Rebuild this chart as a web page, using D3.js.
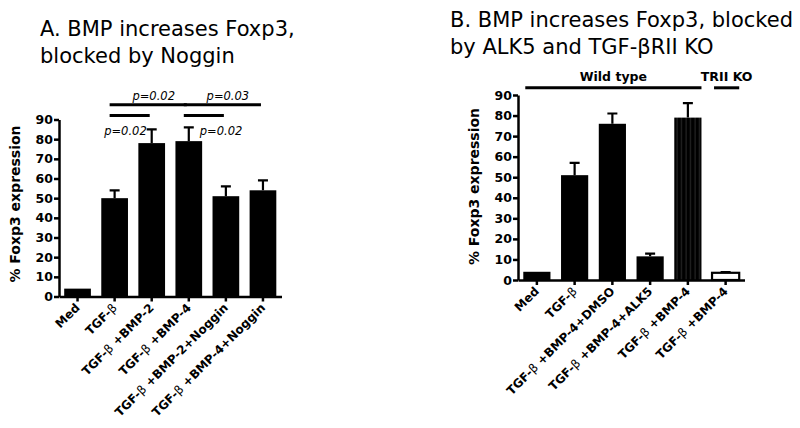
<!DOCTYPE html>
<html>
<head>
<meta charset="utf-8">
<script src="https://cdn.jsdelivr.net/npm/d3@7"></script>
<style>
  body { margin: 0; background: #fff; }
  svg { font-family: 'DejaVu Sans', sans-serif; }
</style>
</head>
<body>
<svg id="chart"></svg>
<script>
// Panel A data
const categoriesA = ['Med', 'TGF-β', 'TGF-β +BMP-2', 'TGF-β +BMP-4', 'TGF-β +BMP-2+Noggin', 'TGF-β +BMP-4+Noggin'];
const meansA = [4, 50, 78, 79, 51, 54];
const semA = [0, 4, 7, 7, 5, 5];
// comparisons: from / to category index, height in % units, p value
const compareFromA = [1, 3, 1, 3];
const compareToA = [3, 5, 2, 4];
const compareLevelA = [97.5, 97.5, 92, 92];
const comparePA = ['p=0.02', 'p=0.03', 'p=0.02', 'p=0.02'];

// Panel B data
const categoriesB = ['Med', 'TGF-β', 'TGF-β  +BMP-4+DMSO', 'TGF-β  +BMP-4+ALK5', 'TGF-β +BMP-4', 'TGF-β +BMP-4'];
const meansB = [4, 51, 76, 11.5, 79, 3.5];
const semB = [0, 6, 5, 1.3, 7, 0.3];
const genotypeB = ['Wild type', 'Wild type', 'Wild type', 'Wild type', 'Wild type', 'TRII KO'];

const yTicks = [0, 10, 20, 30, 40, 50, 60, 70, 80, 90];

const width = 800;
const height = 428;

const svg = d3.select('#chart').attr('width', width).attr('height', height);

// pattern for the striped bar in panel B
const defs = svg.append('defs');
const pat = defs.append('pattern')
  .attr('id', 'stripes')
  .attr('patternUnits', 'userSpaceOnUse')
  .attr('width', 4.5)
  .attr('height', 10);
pat.append('rect').attr('width', 4.5).attr('height', 10).attr('fill', '#000');
pat.append('line').attr('x1', 2).attr('x2', 2).attr('y1', 0).attr('y2', 10)
  .attr('stroke', '#3a3a3a').attr('stroke-width', 0.8);

// writes a label, drawing the beta in a lighter weight like the symbol font
const writeLabel = (sel, label) => {
  const parts = label.split('β');
  parts.forEach((p, i) => {
    if (p) sel.append('tspan').text(p);
    if (i < parts.length - 1) sel.append('tspan').attr('font-weight', 'normal').text('β');
  });
};

const drawPanel = (opt) => {
  const g = svg.append('g');
  const { cats, means, sem, x0, x1, yBottom, yTop } = opt;

  const x = d3.scaleBand().domain(d3.range(cats.length)).range([x0, x1])
    .paddingInner(0.28).paddingOuter(0.14);
  const y = d3.scaleLinear().domain([0, 90]).range([yBottom, yTop]);

  // title
  const title = g.append('text').attr('x', opt.titleX).attr('font-size', 21).attr('fill', '#000');
  opt.title.forEach((line, i) => {
    title.append('tspan').attr('x', opt.titleX).attr('y', opt.titleY + i * 27).text(line);
  });

  // error bars (upper only)
  g.selectAll('.err')
    .data(d3.range(cats.length).filter((i) => sem[i] > 0))
    .enter()
    .append('path')
    .attr('d', (i) => {
      const cx = x(i) + x.bandwidth() / 2;
      const top = y(means[i] + sem[i]);
      return `M${cx},${y(means[i])}V${top}M${cx - 5},${top}H${cx + 5}`;
    })
    .attr('stroke', '#000')
    .attr('stroke-width', 2.2)
    .attr('fill', 'none');

  // bars
  g.selectAll('.bar')
    .data(d3.range(cats.length))
    .enter()
    .append('rect')
    .attr('x', (i) => x(i))
    .attr('width', x.bandwidth())
    .attr('y', (i) => y(means[i]))
    .attr('height', (i) => y(0) - y(means[i]))
    .attr('fill', (i) => opt.fill(i))
    .attr('stroke', '#000')
    .attr('stroke-width', (i) => (opt.fill(i) === '#fff' ? 2.2 : 0));

  // y axis
  const yAxis = d3.axisLeft(y).tickValues(yTicks).tickSize(5).tickSizeOuter(0).tickPadding(1);
  const ya = g.append('g').attr('transform', `translate(${x0},0)`).call(yAxis);
  ya.select('.domain').attr('stroke-width', 2.5);
  ya.selectAll('.tick line').attr('stroke-width', 2.5);
  ya.selectAll('.tick text')
    .attr('font-size', 12.5).attr('font-weight', 'bold')
    .attr('font-family', "'DejaVu Sans', sans-serif").attr('fill', '#000');

  // x axis
  const xAxis = d3.axisBottom(x).tickSize(5).tickSizeOuter(0).tickFormat('');
  const xa = g.append('g').attr('transform', `translate(0,${yBottom})`).call(xAxis);
  xa.select('.domain').attr('stroke-width', 2.5);
  xa.selectAll('.tick line').attr('stroke-width', 2.5);

  // rotated category labels
  cats.forEach((c, i) => {
    const cx = x(i) + x.bandwidth() / 2;
    const t = g.append('text')
      .attr('transform', `translate(${cx + 3},${yBottom + 12}) rotate(-45)`)
      .attr('text-anchor', 'end')
      .attr('font-size', 12)
      .attr('font-weight', 'bold')
      .attr('fill', '#000');
    writeLabel(t, c);
  });

  // y axis title
  g.append('text')
    .attr('transform', `translate(${opt.labelX},${(yBottom + yTop) / 2 + opt.labelDy}) rotate(-90)`)
    .attr('text-anchor', 'middle')
    .attr('font-size', 14)
    .attr('font-weight', 'bold')
    .text('% Foxp3 expression');

  return { g, x, y };
};

// Panel A
const A = drawPanel({
  cats: categoriesA, means: meansA, sem: semA,
  x0: 59, x1: 281.5, yBottom: 296.5, yTop: 119.5,
  title: ['A. BMP increases Foxp3,', 'blocked by Noggin'], titleX: 40, titleY: 36,
  labelX: 19.5, labelDy: -4,
  fill: () => '#000'
});

// significance lines for A
compareFromA.forEach((f, k) => {
  const t = compareToA[k];
  const cf = A.x(f) + A.x.bandwidth() / 2;
  const ct = A.x(t) + A.x.bandwidth() / 2;
  const ly = A.y(compareLevelA[k]);
  A.g.append('line')
    .attr('x1', cf - 5).attr('x2', ct - 2)
    .attr('y1', ly).attr('y2', ly)
    .attr('stroke', '#000').attr('stroke-width', 3);
  const upper = compareLevelA[k] > 95;
  const lab = A.g.append('text')
    .attr('font-size', 11.5).attr('font-style', 'italic').attr('fill', '#000')
    .text(comparePA[k]);
  if (upper) {
    lab.attr('x', (cf + ct) / 2 + 2).attr('y', ly - 5).attr('text-anchor', 'middle');
  } else if (k === 2) {
    lab.attr('x', ct - 5).attr('y', ly + 19).attr('text-anchor', 'end');
  } else {
    lab.attr('x', cf + 11).attr('y', ly + 19).attr('text-anchor', 'start');
  }
});

// Panel B
const B = drawPanel({
  cats: categoriesB, means: meansB, sem: semB,
  x0: 518, x1: 744.5, yBottom: 280, yTop: 95,
  title: ['B. BMP increases Foxp3, blocked', 'by ALK5 and TGF-βRII KO'], titleX: 450, titleY: 27,
  labelX: 479, labelDy: -1,
  fill: (i) => (genotypeB[i] === 'TRII KO' ? '#fff' : i === 4 ? 'url(#stripes)' : '#000')
});

// genotype group lines for B
const groups = Array.from(new Set(genotypeB));
groups.forEach((gname) => {
  const idx = d3.range(genotypeB.length).filter((i) => genotypeB[i] === gname);
  const left = B.x(idx[0]);
  const right = B.x(idx[idx.length - 1]) + B.x.bandwidth();
  const ly = B.y(93.5);
  B.g.append('line')
    .attr('x1', left + 2).attr('x2', right)
    .attr('y1', ly).attr('y2', ly)
    .attr('stroke', '#000').attr('stroke-width', 3);
  B.g.append('text')
    .attr('x', (left + right) / 2 + 1).attr('y', ly - 7)
    .attr('text-anchor', 'middle')
    .attr('font-size', 12.5).attr('font-weight', 'bold')
    .text(gname);
});
</script>
</body>
</html>
